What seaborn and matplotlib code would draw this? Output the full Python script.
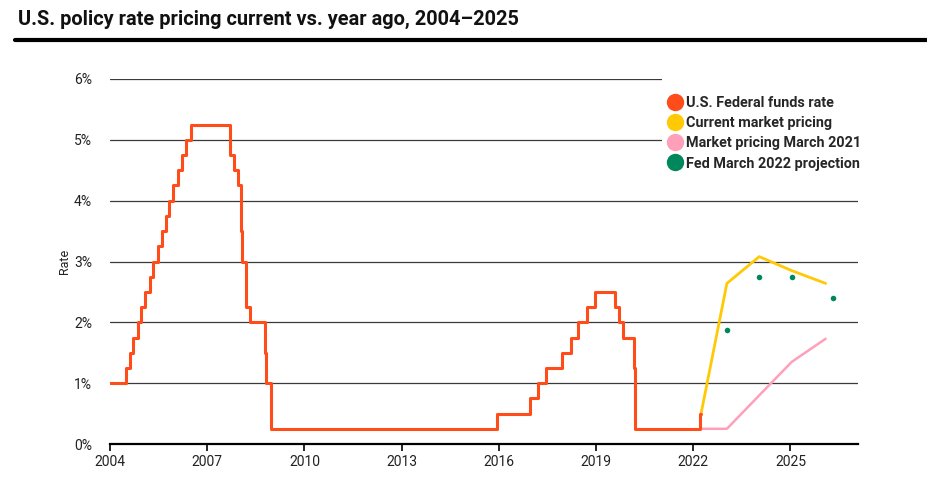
import matplotlib
matplotlib.use("Agg")
import matplotlib.pyplot as plt
from matplotlib.lines import Line2D
from matplotlib.patches import Rectangle
import seaborn as sns
import pandas as pd
import numpy as np

# ---------------- data ----------------
fed_dates = ["2004-01-01", "2004-06-30", "2004-08-10", "2004-09-21", "2004-11-10", "2004-12-14",
             "2005-02-02", "2005-03-22", "2005-05-03", "2005-06-30", "2005-08-09", "2005-09-20",
             "2005-11-01", "2005-12-13", "2006-01-31", "2006-03-28", "2006-05-10", "2006-06-29",
             "2007-09-18", "2007-10-31", "2007-12-11", "2008-01-22", "2008-01-30", "2008-03-18",
             "2008-04-30", "2008-10-08", "2008-10-29", "2008-12-16", "2015-12-16", "2016-12-14",
             "2017-03-15", "2017-06-14", "2017-12-13", "2018-03-21", "2018-06-13", "2018-09-26",
             "2018-12-19", "2019-07-31", "2019-09-18", "2019-10-30", "2020-03-03", "2020-03-15",
             "2022-03-16", "2022-03-30"]
fed_rate = [1.00, 1.25, 1.50, 1.75, 2.00, 2.25,
            2.50, 2.75, 3.00, 3.25, 3.50, 3.75,
            4.00, 4.25, 4.50, 4.75, 5.00, 5.25,
            4.75, 4.50, 4.25, 3.50, 3.00, 2.25,
            2.00, 1.50, 1.00, 0.25, 0.50, 0.75,
            1.00, 1.25, 1.50, 1.75, 2.00, 2.25,
            2.50, 2.25, 2.00, 1.75, 1.25, 0.25,
            0.50, 0.50]

current_dates = ["2022-03-30", "2023-01-15", "2024-01-15", "2025-01-15", "2026-02-01"]
current_rate = [0.50, 2.64, 3.08, 2.85, 2.64]

mar2021_dates = ["2022-03-30", "2023-01-15", "2024-01-15", "2025-01-15", "2026-02-01"]
mar2021_rate = [0.25, 0.25, 0.80, 1.35, 1.73]

proj_dates = ["2023-01-15", "2024-01-15", "2025-01-15", "2026-04-20"]
proj_rate = [1.88, 2.75, 2.75, 2.40]

year_ticks = [2004, 2007, 2010, 2013, 2016, 2019, 2022, 2025]
y_ticks = [0, 1, 2, 3, 4, 5, 6]

series_names = ["U.S. Federal funds rate", "Current market pricing",
                "Market pricing March 2021", "Fed March 2022 projection"]
colors = ["#FF4C1B", "#FFC906", "#FFA0BA", "#00875C"]

# ---------------- figure ----------------
sns.set_theme(style="white")
plt.rcParams['font.family'] = ['Roboto', 'DejaVu Sans']

fig = plt.figure(figsize=(9.28, 4.84), dpi=100)
W, H = 928, 484
ax = fig.add_axes([110 / W, 1 - 444 / H, (858 - 110) / W, (444 - 79) / H])

fed = pd.DataFrame({"date": pd.to_datetime(fed_dates), "rate": fed_rate})
cur = pd.DataFrame({"date": pd.to_datetime(current_dates), "rate": current_rate})
m21 = pd.DataFrame({"date": pd.to_datetime(mar2021_dates), "rate": mar2021_rate})
prj = pd.DataFrame({"date": pd.to_datetime(proj_dates), "rate": proj_rate})

for y in y_ticks[1:]:
    ax.axhline(y, color="#3a3a3a", lw=0.9, zorder=1)

sns.lineplot(data=m21, x="date", y="rate", ax=ax, color=colors[2], lw=1.8,
             estimator=None, sort=False, zorder=3)
sns.lineplot(data=cur, x="date", y="rate", ax=ax, color=colors[1], lw=2.0,
             estimator=None, sort=False, zorder=3)
sns.lineplot(data=fed, x="date", y="rate", ax=ax, color=colors[0], lw=2.2,
             estimator=None, sort=False, drawstyle="steps-post", zorder=4)
sns.scatterplot(data=prj, x="date", y="rate", ax=ax, color=colors[3], s=16,
                linewidth=0, zorder=5)

ax.set_xlim(pd.Timestamp("2004-01-01"), pd.Timestamp("2027-02-01"))
ax.set_ylim(0, 6)
ax.set_xticks([pd.Timestamp(f"{y}-01-01") for y in year_ticks])
ax.set_xticklabels([str(y) for y in year_ticks], fontsize=10, color="#222222")
ax.set_yticks(y_ticks)
ax.set_yticklabels([f"{y}%" for y in y_ticks], fontsize=10, color="#222222")
ax.tick_params(axis="x", direction="out", length=5, width=1.2, color="black", pad=3, bottom=True)
ax.tick_params(axis="y", length=0, pad=13)
ax.set_xlabel("")
ax.set_ylabel("Rate", fontsize=9, color="#222222", labelpad=2)

for s in ["top", "right", "left"]:
    ax.spines[s].set_visible(False)
ax.spines["bottom"].set_color("black")
ax.spines["bottom"].set_linewidth(1.6)

# white block behind legend (hides gridlines there)
ax.add_patch(Rectangle((662 / W, 1 - 176 / H), (870 - 662) / W, (176 - 76) / H,
                       transform=fig.transFigure, facecolor="white", edgecolor="none",
                       zorder=6, clip_on=False))

handles = [Line2D([], [], marker="o", linestyle="", markersize=11.5,
                  markerfacecolor=c, markeredgecolor=c) for c in colors]
leg = ax.legend(handles, series_names, loc="upper left",
                bbox_to_anchor=((662 - 110) / (858 - 110), 1 - (92 - 79) / (444 - 79)),
                frameon=False, prop={"weight": "bold", "size": 10.4}, handletextpad=0.15,
                labelspacing=0.42, borderpad=0.3, handlelength=1.2, borderaxespad=0)
leg.set_zorder(10)

fig.text(18 / W, 1 - 19 / H, "U.S. policy rate pricing current vs. year ago, 2004–2025",
         fontsize=14.4, fontweight="bold", ha="left", va="center", color="#111111")
fig.add_artist(Line2D([15 / W, 1.0], [1 - 39.5 / H, 1 - 39.5 / H],
                      color="black", lw=3, transform=fig.transFigure))

fig.savefig("out.png", dpi=100)
